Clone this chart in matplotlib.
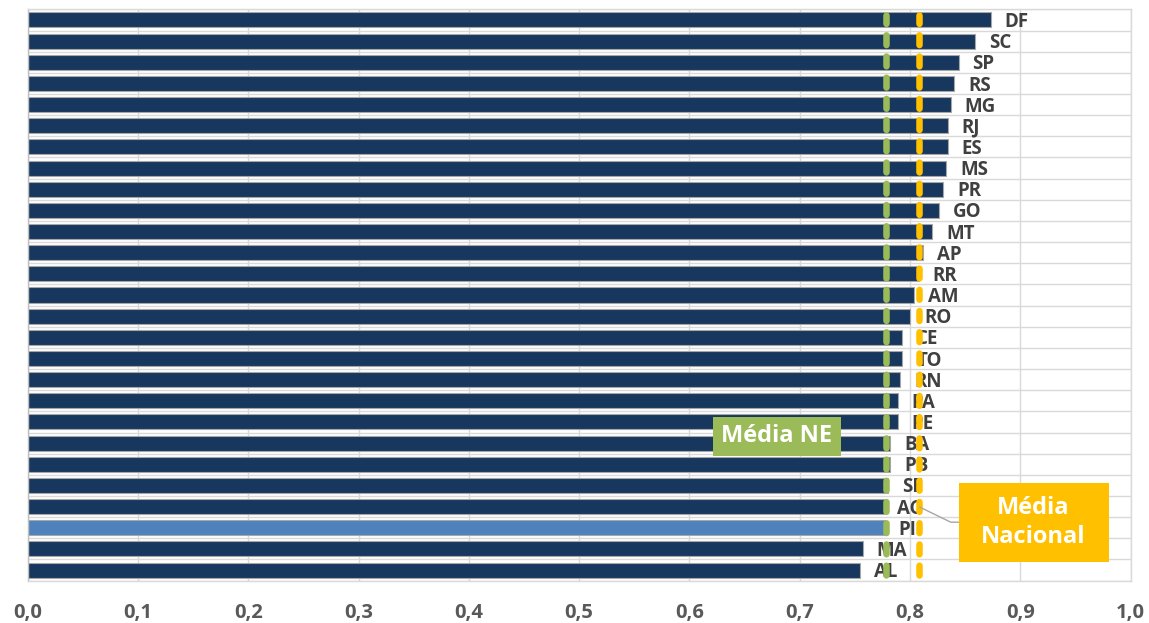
import matplotlib
matplotlib.use("Agg")
import matplotlib.pyplot as plt
from matplotlib.patches import Rectangle
import numpy as np

states = ["DF", "SC", "SP", "RS", "MG", "RJ", "ES", "MS", "PR", "GO", "MT", "AP", "RR", "AM",
          "RO", "CE", "TO", "RN", "PA", "PE", "BA", "PB", "SE", "AC", "PI", "MA", "AL"]
values = [0.873, 0.859, 0.844, 0.840, 0.837, 0.834, 0.834, 0.833, 0.830, 0.826, 0.820, 0.812,
          0.808, 0.804, 0.800, 0.793, 0.793, 0.791, 0.789, 0.789, 0.782, 0.782, 0.780, 0.776,
          0.777, 0.757, 0.755]
highlight = "PI"
media_ne = 0.778
media_nacional = 0.808
xticks = [0.0, 0.1, 0.2, 0.3, 0.4, 0.5, 0.6, 0.7, 0.8, 0.9, 1.0]
xtick_labels = ["0,0", "0,1", "0,2", "0,3", "0,4", "0,5", "0,6", "0,7", "0,8", "0,9", "1,0"]

FONT = ["Open Sans", "DejaVu Sans"]
plt.rcParams["font.family"] = FONT

fig = plt.figure(figsize=(11.49, 6.23), dpi=100)
ax = fig.add_axes([27.6 / 1149, 1 - 580.6 / 623, (1130.6 - 27.6) / 1149, (580.6 - 9.4) / 623])

n = len(states)
ypos = np.arange(n)
colors = ["#4F81BD" if s == highlight else "#17375E" for s in states]
ax.barh(ypos, values, height=0.71, color=colors, edgecolor="#a6a6a6", linewidth=0.8, zorder=2)

ax.set_xlim(0, 1.0)
ax.set_ylim(n - 0.5, -0.5)

# grid
for xv in xticks:
    ax.axvline(xv, color="#d9d9d9", lw=1, zorder=0)
for b in np.arange(-0.5, n, 1):
    ax.axhline(b, color="#d9d9d9", lw=1, zorder=0)

for sp in ax.spines.values():
    sp.set_color("#d9d9d9")
    sp.set_linewidth(1)
ax.spines["left"].set_color("#bfbfbf")

ax.set_yticks([])
ax.set_xticks(xticks)
ax.set_xticklabels(xtick_labels, fontsize=14.5, fontweight="bold", color="#595959")
ax.tick_params(axis="x", length=0, pad=16)

# value labels (state names)
for y, v, s in zip(ypos, values, states):
    ax.annotate(s, (v, y), xytext=(10, -1.5), textcoords="offset points",
                ha="left", va="center", fontsize=13.5, fontweight="bold",
                color="#404040", zorder=3)

# average lines
ax.axvline(media_ne, color="#9BBB59", lw=4.7, linestyle=(0, (1.5, 1.75)),
           dash_capstyle="round", zorder=4, ymin=0.01, ymax=0.99)
ax.axvline(media_nacional, color="#FFC000", lw=4.7, linestyle=(0, (1.5, 1.75)),
           dash_capstyle="round", zorder=4, ymin=0.01, ymax=0.99)

# Média NE box
ax.add_patch(Rectangle((0.6214, 18.77), 0.737 - 0.6214, 20.6 - 18.77,
                       facecolor="#9BBB59", edgecolor="none", zorder=5))
ax.text((0.6214 + 0.737) / 2, (18.77 + 20.6) / 2, "Média NE", ha="center", va="center",
        fontsize=17, fontweight="bold", color="white", zorder=6)

# Média Nacional box + connector
ax.plot([0.809, 0.837, 0.844], [23.03, 23.74, 23.74], color="#a6a6a6", lw=1, zorder=5)
ax.add_patch(Rectangle((0.844, 21.9), 0.980 - 0.844, 25.63 - 21.9,
                       facecolor="#FFC000", edgecolor="none", zorder=5))
ax.text((0.844 + 0.980) / 2, (21.9 + 25.63) / 2, "Média\nNacional", ha="center", va="center",
        fontsize=17, fontweight="bold", color="white", zorder=6, linespacing=1.25)

fig.savefig("out.png", dpi=100, facecolor="white")
